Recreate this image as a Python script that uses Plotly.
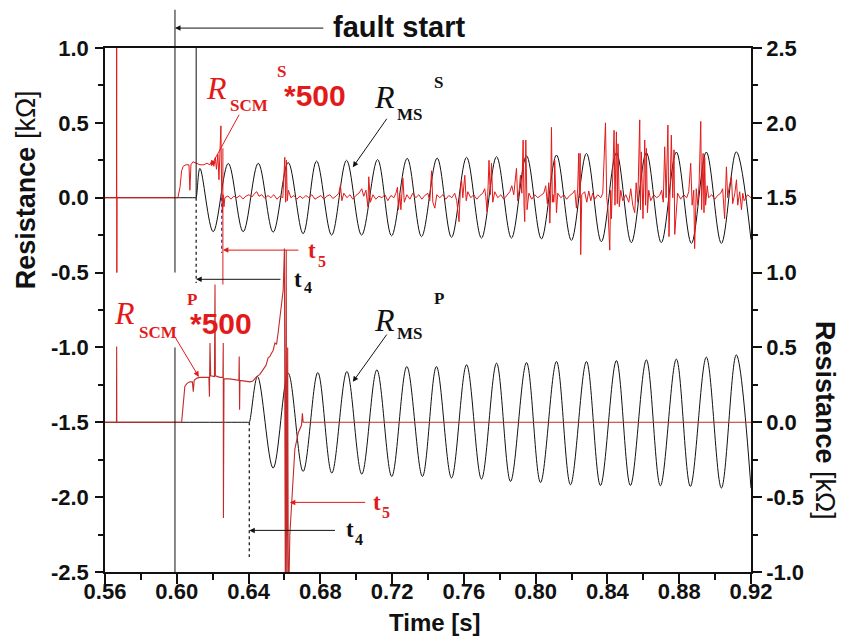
import plotly.graph_objects as go

# ---------------- axes ----------------
T_RANGE = [0.56, 0.92]
Y_LEFT_RANGE = [-2.5, 1.0]
Y_RIGHT_RANGE = [-1.0, 2.5]

x_tick_vals = [0.56, 0.60, 0.64, 0.68, 0.72, 0.76, 0.80, 0.84, 0.88, 0.92]
x_tick_text = ["0.56", "0.60", "0.64", "0.68", "0.72", "0.76", "0.80", "0.84", "0.88", "0.92"]
yl_tick_vals = [1.0, 0.5, 0.0, -0.5, -1.0, -1.5, -2.0, -2.5]
yl_tick_text = ["1.0", "0.5", "0.0", "-0.5", "-1.0", "-1.5", "-2.0", "-2.5"]
yr_tick_vals = [2.5, 2.0, 1.5, 1.0, 0.5, 0.0, -0.5, -1.0]
yr_tick_text = ["2.5", "2.0", "1.5", "1.0", "0.5", "0.0", "-0.5", "-1.0"]

# ---------------- R_MS^S (left axis, kOhm) ----------------
ms_s_t = [0.5600, 0.6103, 0.6107, 0.6129, 0.6203, 0.6287, 0.6370, 0.6454, 0.6537, 0.6621,
          0.6704, 0.6779, 0.6863, 0.6946, 0.7030, 0.7119, 0.7197, 0.7284, 0.7364, 0.7451,
          0.7531, 0.7615, 0.7698, 0.7782, 0.7865, 0.7949, 0.8032, 0.8116, 0.8199, 0.8283,
          0.8366, 0.8450, 0.8533, 0.8617, 0.8700, 0.8784, 0.8868, 0.8951, 0.9035, 0.9118,
          0.9200]
ms_s_v = [0.0, 0.0, 0.0, 0.196, -0.227, 0.229, -0.227, 0.230, -0.230, 0.235,
          -0.240, 0.245, -0.250, 0.250, -0.250, 0.255, -0.255, 0.263, -0.260, 0.265,
          -0.265, 0.270, -0.270, 0.274, -0.270, 0.280, -0.275, 0.285, -0.285, 0.296,
          -0.294, 0.300, -0.300, 0.300, -0.300, 0.305, -0.305, 0.305, -0.305, 0.307,
          -0.280]

# ---------------- R_MS^P (right axis, kOhm) ----------------
ms_p_t = [0.5600, 0.6400, 0.6404, 0.6450, 0.6537, 0.6621, 0.6704, 0.6786, 0.6864, 0.6948,
          0.7031, 0.7115, 0.7198, 0.7282, 0.7369, 0.7447, 0.7531, 0.7615, 0.7698, 0.7782,
          0.7860, 0.7949, 0.8027, 0.8116, 0.8194, 0.8283, 0.8361, 0.8450, 0.8528, 0.8617,
          0.8695, 0.8784, 0.8862, 0.8951, 0.9035, 0.9118, 0.9200]
ms_p_v = [0.0, 0.0, 0.0, 0.306, -0.306, 0.328, -0.328, 0.332, -0.339, 0.339,
          -0.346, 0.350, -0.362, 0.372, -0.362, 0.372, -0.372, 0.384, -0.379, 0.395,
          -0.395, 0.399, -0.402, 0.406, -0.417, 0.406, -0.422, 0.412, -0.422, 0.417,
          -0.424, 0.422, -0.428, 0.435, -0.439, 0.450, -0.440]

# ---------------- R_SCM^S * 500 (left axis) ----------------
rscm_s_t = [0.5600, 0.5664, 0.5665, 0.5666, 0.5667, 0.6006, 0.6018, 0.6027, 0.6036, 0.6051,
            0.6068, 0.6073, 0.6079, 0.6090, 0.6112, 0.6129, 0.6151, 0.6168, 0.6185, 0.6196,
            0.6207, 0.6215, 0.6221, 0.6229, 0.6235, 0.6240, 0.6246, 0.6250, 0.6254, 0.6258,
            0.6263, 0.6268, 0.6285, 0.6302, 0.6318, 0.6335, 0.6352, 0.6369, 0.6385, 0.6402,
            0.6419, 0.6435, 0.6446, 0.6458, 0.6474, 0.6491, 0.6508, 0.6524, 0.6541, 0.6558,
            0.6575, 0.6591, 0.6602, 0.6607, 0.6611, 0.6616, 0.6622, 0.6636, 0.6653, 0.6669,
            0.6686, 0.6703, 0.6719, 0.6736, 0.6753, 0.6770, 0.6786, 0.6803, 0.6820, 0.6836,
            0.6853, 0.6870, 0.6887, 0.6903, 0.6912, 0.6920, 0.6931, 0.6948, 0.6965, 0.6981,
            0.6998, 0.7015, 0.7031, 0.7042, 0.7054, 0.7065, 0.7070, 0.7079, 0.7093, 0.7109,
            0.7126, 0.7143, 0.7160, 0.7176, 0.7193, 0.7210, 0.7221, 0.7230, 0.7235, 0.7243,
            0.7249, 0.7260, 0.7268, 0.7282, 0.7299, 0.7315, 0.7332, 0.7349, 0.7366, 0.7382,
            0.7399, 0.7410, 0.7420, 0.7427, 0.7438, 0.7449, 0.7466, 0.7483, 0.7499, 0.7516,
            0.7533, 0.7549, 0.7560, 0.7573, 0.7580, 0.7587, 0.7594, 0.7605, 0.7613, 0.7622,
            0.7638, 0.7655, 0.7672, 0.7689, 0.7705, 0.7716, 0.7722, 0.7729, 0.7735, 0.7740,
            0.7747, 0.7754, 0.7761, 0.7772, 0.7789, 0.7806, 0.7822, 0.7839, 0.7856, 0.7867,
            0.7878, 0.7893, 0.7900, 0.7909, 0.7915, 0.7923, 0.7930, 0.7935, 0.7939, 0.7945,
            0.7952, 0.7962, 0.7978, 0.7995, 0.8012, 0.8028, 0.8045, 0.8056, 0.8065, 0.8073,
            0.8079, 0.8084, 0.8088, 0.8093, 0.8097, 0.8101, 0.8104, 0.8106, 0.8112, 0.8116,
            0.8123, 0.8140, 0.8157, 0.8173, 0.8190, 0.8207, 0.8218, 0.8227, 0.8234, 0.8240,
            0.8244, 0.8248, 0.8251, 0.8257, 0.8273, 0.8285, 0.8296, 0.8307, 0.8318, 0.8329,
            0.8346, 0.8363, 0.8374, 0.8389, 0.8396, 0.8403, 0.8413, 0.8418, 0.8422, 0.8429,
            0.8437, 0.8442, 0.8450, 0.8455, 0.8459, 0.8466, 0.8474, 0.8485, 0.8502, 0.8519,
            0.8530, 0.8541, 0.8552, 0.8560, 0.8569, 0.8580, 0.8584, 0.8589, 0.8594, 0.8598,
            0.8608, 0.8612, 0.8617, 0.8623, 0.8630, 0.8641, 0.8658, 0.8674, 0.8691, 0.8702,
            0.8711, 0.8719, 0.8727, 0.8737, 0.8743, 0.8750, 0.8756, 0.8764, 0.8771, 0.8775,
            0.8784, 0.8791, 0.8808, 0.8825, 0.8842, 0.8853, 0.8864, 0.8872, 0.8881, 0.8886,
            0.8895, 0.8903, 0.8911, 0.8920, 0.8925, 0.8933, 0.8938, 0.8942, 0.8947, 0.8956,
            0.8964, 0.8981, 0.8998, 0.9014, 0.9031, 0.9042, 0.9053, 0.9063, 0.9070, 0.9078,
            0.9091, 0.9098, 0.9110, 0.9119, 0.9126, 0.9137, 0.9147, 0.9154, 0.9162, 0.9181,
            0.9200]
rscm_s_v = [0.0, 0.0, 1.0, -0.5, 0.0, 0.0, 0.07, 0.18, 0.21, 0.22,
            0.22, 0.05, 0.22, 0.24, 0.23, 0.22, 0.22, 0.23, 0.22, 0.25,
            0.21, 0.27, 0.19, 0.29, 0.12, 0.30, 0.48, 0.05, -0.10, 0.02,
            -0.06, 0.0, 0.012, -0.01, 0.01, 0.0, 0.015, -0.008, 0.01, 0.02,
            0.005, 0.03, 0.04, 0.01, 0.02, -0.005, 0.015, 0.0, 0.02, -0.01,
            0.01, 0.0, 0.27, -0.03, 0.25, -0.02, 0.05, 0.0, 0.015, -0.01,
            0.01, -0.005, 0.015, 0.0, 0.02, -0.01, 0.005, 0.015, -0.01, 0.01,
            0.02, -0.005, 0.01, 0.03, 0.084, -0.02, 0.03, 0.0, 0.02, -0.01,
            0.015, 0.03, 0.06, 0.01, 0.05, -0.06, 0.14, -0.03, 0.02, -0.01,
            0.01, 0.0, 0.02, -0.02, 0.015, 0.0, 0.03, 0.07, -0.08, 0.02,
            -0.08, 0.13, -0.03, 0.02, -0.01, 0.03, 0.0, 0.02, -0.01, 0.015,
            0.03, -0.02, 0.18, -0.03, -0.07, 0.02, 0.0, 0.02, -0.01, 0.015,
            0.0, 0.03, -0.02, -0.16, 0.05, 0.12, 0.0, 0.15, -0.02, 0.04,
            0.0, 0.02, -0.01, 0.015, 0.03, 0.06, 0.01, -0.094, 0.08, 0.25,
            0.02, 0.23, -0.03, 0.04, 0.0, 0.02, -0.01, 0.015, 0.04, 0.08,
            0.02, 0.196, -0.02, 0.06, 0.15, 0.03, 0.385, -0.05, -0.16, 0.385,
            -0.08, 0.03, -0.01, 0.02, 0.0, 0.015, 0.03, 0.08, -0.04, 0.10,
            -0.17, 0.05, 0.47, -0.03, 0.02, -0.03, 0.03, 0.25, -0.02, -0.10,
            0.03, 0.0, 0.02, -0.01, 0.015, 0.03, 0.05, -0.07, 0.06, 0.296,
            0.0, 0.296, -0.38, 0.02, 0.04, -0.03, 0.045, -0.02, 0.03, -0.01,
            0.02, 0.0, 0.03, 0.50, 0.0, -0.08, -0.35, 0.05, -0.14, 0.20,
            0.45, -0.05, 0.44, -0.04, 0.36, -0.06, 0.05, -0.02, 0.02, -0.03,
            0.06, -0.05, -0.10, 0.10, -0.03, 0.52, -0.08, 0.306, 0.0, -0.14,
            0.385, -0.05, 0.33, -0.10, 0.05, -0.02, 0.02, 0.0, 0.015, 0.05,
            -0.03, 0.34, 0.0, 0.485, -0.26, 0.05, 0.418, 0.0, 0.32, -0.245,
            -0.10, 0.03, -0.01, 0.02, 0.0, 0.04, 0.23, -0.05, 0.05, -0.34,
            0.06, -0.05, 0.10, 0.51, -0.08, 0.296, -0.10, 0.27, -0.05, 0.08,
            0.0, 0.02, -0.01, 0.015, 0.03, 0.06, -0.14, 0.206, 0.0, 0.07,
            0.14, -0.04, 0.03, 0.12, -0.05, 0.04, -0.08, 0.03, -0.02, 0.02,
            0.0]

# ---------------- R_SCM^P * 500 (right axis) ----------------
rscm_p_t = [0.5600, 0.5664, 0.5665, 0.5666, 0.6027, 0.6036, 0.6045, 0.6057, 0.6073, 0.6087,
            0.6092, 0.6097, 0.6112, 0.6129, 0.6157, 0.6179, 0.6182, 0.6185, 0.6189, 0.6210,
            0.6213, 0.6215, 0.6240, 0.6257, 0.6259, 0.6260, 0.6263, 0.6296, 0.6324, 0.6346,
            0.6348, 0.6350, 0.6352, 0.6380, 0.6408, 0.6424, 0.6445, 0.6463, 0.6482, 0.6497,
            0.6509, 0.6519, 0.6527, 0.6537, 0.6547, 0.6556, 0.6565, 0.6575, 0.6584, 0.6593,
            0.6600, 0.6605, 0.6610, 0.6613, 0.6618, 0.6622, 0.6630, 0.6640, 0.6649, 0.6658,
            0.6677, 0.6695, 0.6700, 0.6704, 0.9200]
rscm_p_v = [0.0, 0.0, 0.506, 0.0, 0.0, 0.10, 0.24, 0.26, 0.27, 0.27,
            0.205, 0.28, 0.295, 0.30, 0.30, 0.30, 0.17, 0.53, 0.31, 0.305,
            0.92, 0.31, 0.30, 0.30, 0.53, -0.64, 0.29, 0.29, 0.285, 0.28,
            0.44, 0.083, 0.28, 0.275, 0.27, 0.275, 0.305, 0.32, 0.35, 0.38,
            0.43, 0.44, 0.46, 0.48, 0.53, 0.52, 0.60, 0.706, 0.82, 0.884,
            1.16, -1.3, 1.15, -1.3, 0.5, -1.3, -0.75, -0.52, -0.33, -0.18,
            -0.07, -0.02, 0.06, 0.0, 0.0]

# ---------------- event marks (s) ----------------
T_FAULT = 0.599
T4_S = 0.6108
T5_S = 0.6257
T5_S_DOT = 0.6250
T4_P = 0.6404

BLACK = "#111111"
RED = "rgb(226,26,26)"
RED_P = "rgb(196,42,42)"
SANS = "Liberation Sans"
SERIF = "Liberation Serif"

fig = go.Figure()
fig.add_trace(go.Scatter(x=ms_s_t, y=ms_s_v, mode="lines",
                         line=dict(color=BLACK, width=1, shape="spline", smoothing=1),
                         yaxis="y", hoverinfo="skip"))
fig.add_trace(go.Scatter(x=rscm_s_t, y=rscm_s_v, mode="lines",
                         line=dict(color=RED, width=1), yaxis="y", hoverinfo="skip"))
fig.add_trace(go.Scatter(x=ms_p_t, y=ms_p_v, mode="lines",
                         line=dict(color=BLACK, width=1, shape="spline", smoothing=1),
                         yaxis="y2", hoverinfo="skip"))
fig.add_trace(go.Scatter(x=rscm_p_t, y=rscm_p_v, mode="lines",
                         line=dict(color=RED_P, width=1.1), yaxis="y2", hoverinfo="skip"))

# vertical event lines (left-axis units)
Y_SPAN = Y_LEFT_RANGE[1] - Y_LEFT_RANGE[0]


def to_paper(v):
    return (v - Y_LEFT_RANGE[0]) / Y_SPAN


shapes = [
    # fault start (upper panel extends above the frame)
    dict(type="line", xref="x", yref="paper", x0=T_FAULT, x1=T_FAULT,
         y0=to_paper(-0.5), y1=1.073, line=dict(color=BLACK, width=1)),
    dict(type="line", xref="x", yref="y", x0=T_FAULT, x1=T_FAULT,
         y0=-1.0, y1=-2.5, line=dict(color=BLACK, width=1)),
    # t4 of the S signal
    dict(type="line", xref="x", yref="y", x0=T4_S, x1=T4_S, y0=1.0, y1=0.0,
         line=dict(color=BLACK, width=1)),
    dict(type="line", xref="x", yref="y", x0=T4_S, x1=T4_S, y0=0.0, y1=-0.57,
         line=dict(color=BLACK, width=1.2, dash="dot")),
    # t5 of the S signal
    dict(type="line", xref="x", yref="y", x0=T5_S, x1=T5_S, y0=0.33, y1=-0.58,
         line=dict(color=RED, width=1)),
    dict(type="line", xref="x", yref="y", x0=T5_S_DOT, x1=T5_S_DOT, y0=0.0, y1=-0.37,
         line=dict(color="#4b3c8f", width=1.2, dash="dot")),
    # t4 of the P signal
    dict(type="line", xref="x", yref="y", x0=T4_P, x1=T4_P, y0=-1.5, y1=-2.4,
         line=dict(color=BLACK, width=1.2, dash="dot")),
]


def arrow(x, y, ax, ay, color, yref="y"):
    return dict(x=x, y=y, ax=ax, ay=ay, xref="x", yref=yref, axref="x",
                ayref=("pixel" if yref == "paper" else yref), text="",
                showarrow=True, arrowhead=2, arrowsize=1.1, arrowwidth=1,
                arrowcolor=color, standoff=0)


def label(x, y, text, size, color, family, weight="normal", style="normal",
          yref="y", xanchor="left"):
    return dict(x=x, y=y, xref="x", yref=yref, text=text, showarrow=False,
                xanchor=xanchor, yanchor="middle",
                font=dict(family=family, size=size, color=color,
                          weight=weight, style=style))


annotations = [
    # fault start
    arrow(T_FAULT, 1.038, 0.6825, 0, BLACK, yref="paper"),
    label(0.6858, 1.04, "fault start", 29, BLACK, SANS, "bold", yref="paper"),
    # t4 / t5 markers, S signal
    arrow(T4_S, -0.545, 0.6586, -0.545, BLACK),
    label(0.6643, -0.545, "t", 23, BLACK, SERIF, "bold"),
    label(0.6699, -0.603, "4", 16, BLACK, SERIF, "bold"),
    arrow(T5_S, -0.35, 0.6686, -0.35, RED),
    label(0.6721, -0.350, "t", 23, RED, SERIF, "bold"),
    label(0.6777, -0.423, "5", 16, RED, SERIF, "bold"),
    # t4 / t5 markers, P signal
    arrow(T4_P, -2.222, 0.6890, -2.222, BLACK),
    label(0.6933, -2.214, "t", 23, BLACK, SERIF, "bold"),
    label(0.6981, -2.284, "4", 16, BLACK, SERIF, "bold"),
    arrow(0.6630, -2.035, 0.7058, -2.035, RED),
    label(0.7083, -2.033, "t", 23, RED, SERIF, "bold"),
    label(0.7132, -2.104, "5", 16, RED, SERIF, "bold"),
    # R_SCM^S * 500
    label(0.6152, 0.734, "R", 32, RED, SERIF, "normal", "italic"),
    label(0.6285, 0.618, "SCM", 17, RED, SERIF, "bold"),
    label(0.6547, 0.841, "S", 17, RED, SERIF, "bold"),
    label(0.6588, 0.685, "*500", 30, RED, SANS, "bold"),
    arrow(0.6190, 0.210, 0.6352, 0.564, RED),
    # R_MS^S
    label(0.7088, 0.671, "R", 32, BLACK, SERIF, "normal", "italic"),
    label(0.7215, 0.558, "MS", 17, BLACK, SERIF, "bold"),
    label(0.7421, 0.771, "S", 17, BLACK, SERIF, "bold"),
    arrow(0.6981, 0.204, 0.7176, 0.537, BLACK),
    # R_SCM^P * 500
    label(0.5640, -0.770, "R", 32, RED, SERIF, "normal", "italic"),
    label(0.5778, -0.897, "SCM", 17, RED, SERIF, "bold"),
    label(0.6045, -0.677, "P", 17, RED, SERIF, "bold"),
    label(0.6063, -0.837, "*500", 30, RED, SANS, "bold"),
    arrow(0.6123, -1.197, 0.5984, -0.918, RED),
    # R_MS^P
    label(0.7088, -0.815, "R", 32, BLACK, SERIF, "normal", "italic"),
    label(0.7215, -0.904, "MS", 17, BLACK, SERIF, "bold"),
    label(0.7421, -0.670, "P", 17, BLACK, SERIF, "bold"),
    arrow(0.6981, -1.230, 0.7176, -0.904, BLACK),
    # axis titles
    dict(x=-0.122, y=0.729, xref="paper", yref="paper", showarrow=False,
         text="<b>Resistance</b> [kΩ]", textangle=-90, xanchor="center", yanchor="middle",
         font=dict(family=SANS, size=27, color=BLACK)),
    dict(x=1.1146, y=0.290, xref="paper", yref="paper", showarrow=False,
         text="<b>Resistance</b> [kΩ]", textangle=90, xanchor="center", yanchor="middle",
         font=dict(family=SANS, size=27, color=BLACK)),
    dict(x=0.511, y=-0.097, xref="paper", yref="paper", showarrow=False,
         text="Time [s]", xanchor="center", yanchor="middle",
         font=dict(family=SANS, size=24, color=BLACK, weight="bold")),
]

tick_font = dict(family=SANS, size=22, color=BLACK, weight="bold")

fig.update_layout(
    width=841, height=639, autosize=False,
    margin=dict(l=105, r=90, t=48, b=67, pad=0),
    paper_bgcolor="white", plot_bgcolor="white",
    showlegend=False,
    xaxis=dict(range=T_RANGE, tickmode="array", tickvals=x_tick_vals, ticktext=x_tick_text,
               ticks="outside", ticklen=10, tickwidth=1.5, tickcolor=BLACK,
               ticklabelstandoff=-11,
               showline=True, linecolor=BLACK, linewidth=1.5, mirror=True,
               showgrid=False, zeroline=False, tickfont=tick_font,
               minor=dict(tickmode="linear", tick0=0.58, dtick=0.04, ticks="outside",
                          ticklen=6, tickwidth=1.5, tickcolor=BLACK, showgrid=False)),
    yaxis=dict(range=Y_LEFT_RANGE, tickmode="array", tickvals=yl_tick_vals, ticktext=yl_tick_text,
               ticks="outside", ticklen=8, tickwidth=1.5, tickcolor=BLACK,
               ticklabelstandoff=2,
               showline=True, linecolor=BLACK, linewidth=1.5,
               showgrid=False, zeroline=False, tickfont=tick_font,
               minor=dict(tickmode="linear", tick0=0.75, dtick=0.5, ticks="outside",
                          ticklen=5, tickwidth=1.5, tickcolor=BLACK, showgrid=False)),
    yaxis2=dict(range=Y_RIGHT_RANGE, overlaying="y", side="right", anchor="x",
                tickmode="array", tickvals=yr_tick_vals, ticktext=yr_tick_text,
                ticks="outside", ticklen=9, tickwidth=1.5, tickcolor=BLACK,
                showline=True, linecolor=BLACK, linewidth=1.5,
                showgrid=False, zeroline=False, tickfont=tick_font,
                minor=dict(tickmode="linear", tick0=0.25, dtick=0.5, ticks="outside",
                           ticklen=5, tickwidth=1.5, tickcolor=BLACK, showgrid=False)),
    shapes=shapes,
    annotations=annotations,
)

fig.write_html("out.html", config={"displayModeBar": False})
